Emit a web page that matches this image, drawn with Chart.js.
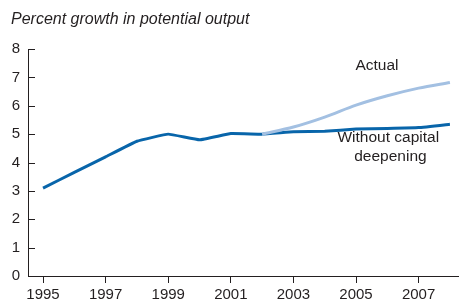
<!DOCTYPE html>
<html>
<head>
<meta charset="utf-8">
<script src="https://cdn.jsdelivr.net/npm/chart.js@4"></script>
<style>
  html, body { margin: 0; padding: 0; background: #fff; }
  #wrap { position: relative; width: 459px; height: 306px; }
</style>
</head>
<body>
<div id="wrap"><canvas id="growthChart" width="459" height="306"></canvas></div>
<script>
const years = [1995, 1996, 1997, 1998, 1999, 2000, 2001, 2002, 2003, 2004, 2005, 2006, 2007, 2008];
const withoutDeepening = [3.1, 3.65, 4.2, 4.75, 5.0, 4.8, 5.02, 5.0, 5.08, 5.1, 5.18, 5.2, 5.23, 5.35];
const actual = [null, null, null, null, null, null, null, 5.0, 5.25, 5.6, 6.02, 6.35, 6.62, 6.82];
const xTicks = [1995, 1997, 1999, 2001, 2003, 2005, 2007];
const yTicks = [0, 1, 2, 3, 4, 5, 6, 7, 8];

const fontFamily = '"Liberation Sans", Arial, Helvetica, sans-serif';
const textColor = '#231f20';

const annotations = {
    id: 'annotations',
    afterDraw(chart) {
        const ctx = chart.ctx;
        const x = chart.scales.x, y = chart.scales.y;
        ctx.save();
        // inward ticks on the y axis
        ctx.strokeStyle = '#231f20';
        ctx.lineWidth = 1;
        yTicks.forEach(v => {
            const py = Math.round(y.getPixelForValue(v)) + 0.5;
            ctx.beginPath();
            ctx.moveTo(x.left, py);
            ctx.lineTo(x.left + 7, py);
            ctx.stroke();
        });
        // title
        ctx.fillStyle = textColor;
        ctx.font = 'italic 16px ' + fontFamily;
        ctx.textAlign = 'left';
        ctx.textBaseline = 'middle';
        ctx.fillText('Percent growth in potential output', 11, 20);
        // series labels
        ctx.font = '15.5px ' + fontFamily;
        ctx.textAlign = 'center';
        ctx.fillText('Actual', x.getPixelForValue(2005.67), y.getPixelForValue(7.42));
        ctx.fillText('Without capital', x.getPixelForValue(2006.03), y.getPixelForValue(4.86));
        ctx.fillText('deepening', x.getPixelForValue(2006.1), y.getPixelForValue(4.19));
        ctx.restore();
    }
};

const ctx = document.getElementById('growthChart').getContext('2d');
new Chart(ctx, {
    type: 'line',
    data: {
        labels: years,
        datasets: [{
            label: 'Actual',
            data: years.map((yr, i) => ({ x: yr, y: actual[i] })),
            borderColor: '#a3c0e2',
            borderWidth: 3,
            pointRadius: 0,
            tension: 0.3,
            spanGaps: false
        }, {
            label: 'Without capital deepening',
            data: years.map((yr, i) => ({ x: yr, y: withoutDeepening[i] })),
            borderColor: '#0865aa',
            borderWidth: 3,
            pointRadius: 0,
            tension: 0.08
        }]
    },
    options: {
        responsive: false,
        animation: false,
        layout: { padding: { top: 49, right: 0, left: 0, bottom: 0 } },
        plugins: { legend: { display: false }, tooltip: { enabled: false } },
        scales: {
            x: {
                type: 'linear',
                min: 1994.52,
                max: 2008.29,
                afterBuildTicks: axis => { axis.ticks = xTicks.map(v => ({ value: v })); },
                afterFit: axis => { axis.height = 30; },
                grid: { drawOnChartArea: false, drawTicks: true, tickLength: 7, color: '#231f20' },
                border: { display: true, color: '#231f20', width: 1 },
                ticks: {
                    font: { family: fontFamily, size: 15 },
                    color: textColor,
                    padding: 3,
                    maxRotation: 0,
                    autoSkip: false,
                    callback: v => String(v)
                }
            },
            y: {
                min: 0,
                max: 8,
                afterBuildTicks: axis => { axis.ticks = yTicks.map(v => ({ value: v })); },
                afterFit: axis => { axis.width = 28; },
                grid: { display: false, drawTicks: false },
                border: { display: true, color: '#231f20', width: 1 },
                ticks: {
                    font: { family: fontFamily, size: 15 },
                    color: textColor,
                    padding: 8
                }
            }
        }
    },
    plugins: [annotations]
});
</script>
</body>
</html>
